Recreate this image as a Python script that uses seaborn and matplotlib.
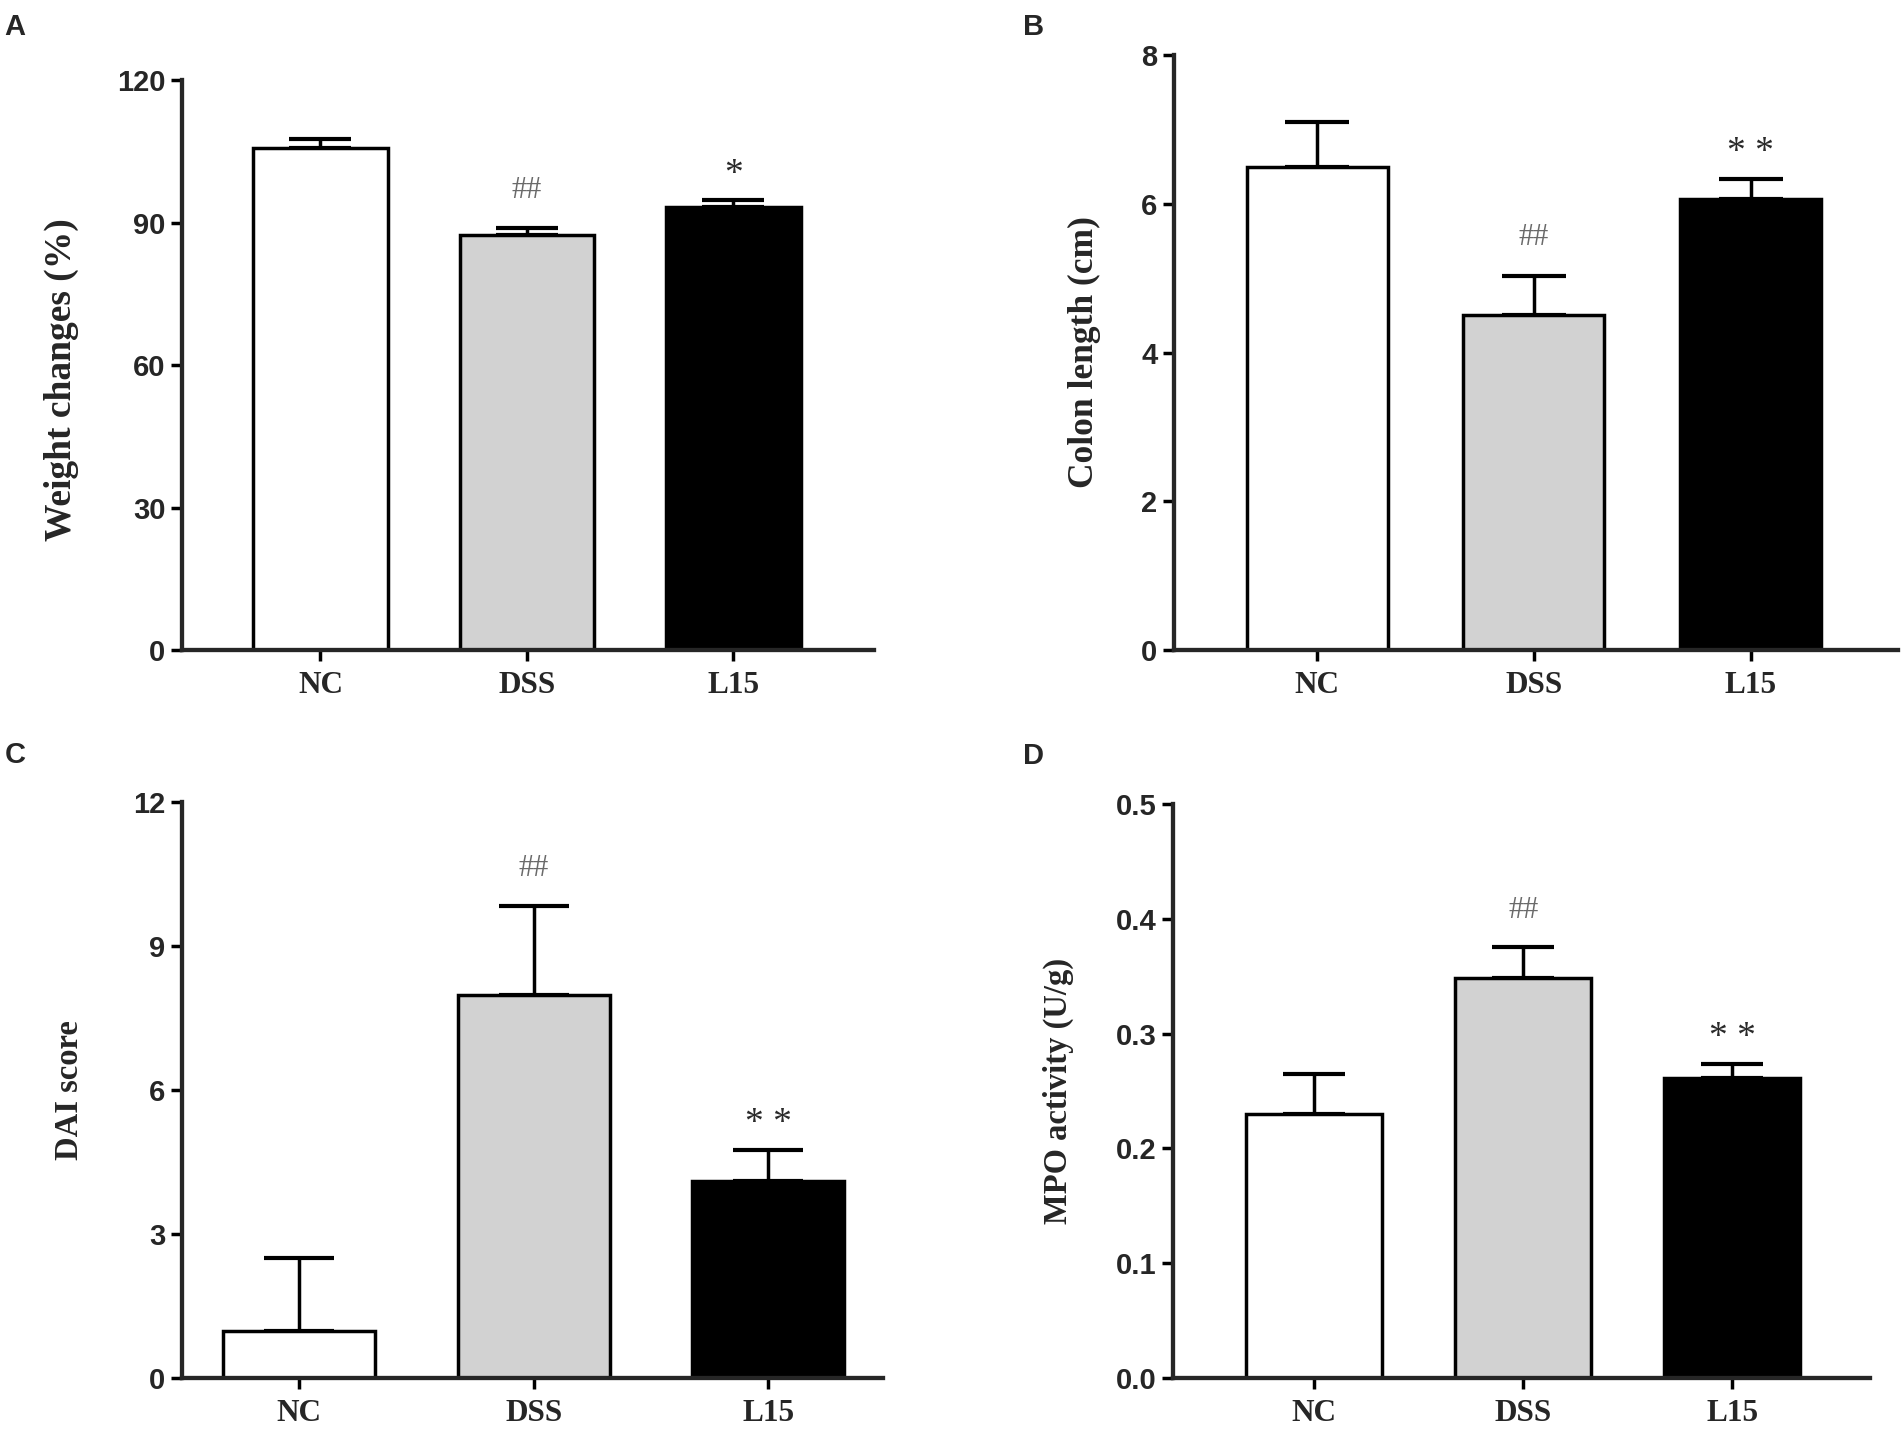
import numpy as np
import pandas as pd
import matplotlib
matplotlib.use('Agg')
import matplotlib.pyplot as plt
from matplotlib.ticker import FormatStrFormatter
import seaborn as sns

# Values (mean and upper SEM)
groups = ['NC', 'DSS', 'L15']
bar_colors = ['white', '#d2d2d2', 'black']

weight_mean = [105.6, 87.3, 93.3]
weight_sem = [1.9, 1.6, 1.45]
weight_ticks = [0, 30, 60, 90, 120]
weight_marks = ['', '##', '*']

colon_mean = [6.49, 4.50, 6.07]
colon_sem = [0.61, 0.53, 0.26]
colon_ticks = [0, 2, 4, 6, 8]
colon_marks = ['', '##', '* *']

dai_mean = [0.98, 7.97, 4.10]
dai_sem = [1.52, 1.86, 0.65]
dai_ticks = [0, 3, 6, 9, 12]
dai_marks = ['', '##', '* *']

mpo_mean = [0.230, 0.348, 0.261]
mpo_sem = [0.035, 0.027, 0.0125]
mpo_ticks = [0.0, 0.1, 0.2, 0.3, 0.4, 0.5]
mpo_marks = ['', '##', '* *']

sns.set_style('ticks')
plt.rcParams['font.family'] = ['Liberation Sans', 'DejaVu Sans']

DPI = 100
fig = plt.figure(figsize=(19.04, 14.29), dpi=DPI)

# letter, axes rect, means, sems, marks, ticks, ylabel, ylabel size,
# ylabel position (axes coords), xlim, tick format, letter position
panels = [
    ('A', [0.0956, 0.5451, 0.3634, 0.3989], weight_mean, weight_sem, weight_marks,
     weight_ticks, 'Weight changes (%)', 27, (-0.175, 0.475), (-0.67, 2.68), '%d',
     (0.0079, 0.981)),
    ('B', [0.6166, 0.5451, 0.3803, 0.4164], colon_mean, colon_sem, colon_marks,
     colon_ticks, 'Colon length (cm)', 25.5, (-0.123, 0.5), (-0.66, 2.68), '%d',
     (0.543, 0.981)),
    ('C', [0.0956, 0.0357, 0.3682, 0.4031], dai_mean, dai_sem, dai_marks,
     dai_ticks, 'DAI score', 23.5, (-0.160, 0.5), (-0.50, 2.49), '%d',
     (0.0079, 0.472)),
    ('D', [0.6161, 0.0357, 0.3661, 0.4017], mpo_mean, mpo_sem, mpo_marks,
     mpo_ticks, 'MPO activity (U/g)', 23.5, (-0.165, 0.5), (-0.675, 2.66), '%.1f',
     (0.543, 0.471)),
]

lw = 2.5
bar_w = 0.65

for (letter, rect, means, sems, marks, ticks, ylabel, ysize, ypos, xlim, fmt,
     lpos) in panels:
    ax = fig.add_axes(rect)
    df = pd.DataFrame({'group': groups, 'value': means})
    sns.barplot(data=df, x='group', y='value', hue='group', palette=bar_colors,
                order=groups, hue_order=groups, width=bar_w, edgecolor='black',
                linewidth=lw, errorbar=None, legend=False, ax=ax, zorder=2)

    # cap half-length about a quarter of the bar width
    ax_w_px = rect[2] * fig.get_figwidth() * DPI
    bar_px = bar_w * ax_w_px / (xlim[1] - xlim[0])
    cap = 0.23 * bar_px * 72 / DPI
    xs = np.arange(len(groups))
    ax.errorbar(xs, means, yerr=[np.zeros(len(means)), sems], fmt='none',
                ecolor='black', elinewidth=lw, capsize=cap, capthick=lw + 0.5,
                zorder=1)

    ymax = ticks[-1]
    for x, m, s, t in zip(xs, means, sems, marks):
        if not t:
            continue
        if t.startswith('#'):
            ax.text(x, m + s + 0.065 * ymax, t, ha='center', va='center',
                    fontsize=22, color='#6a6a6a', family='Liberation Serif')
        else:
            ax.text(x, m + s + 0.045 * ymax, t, ha='center', va='center',
                    fontsize=27, color='#2a2a2a', family='Liberation Serif')

    ax.set_xlim(*xlim)
    ax.set_ylim(0, ymax)
    ax.set_yticks(ticks)
    ax.yaxis.set_major_formatter(FormatStrFormatter(fmt))
    ax.set_xlabel('')
    ax.set_ylabel(ylabel, fontsize=ysize, fontweight='bold',
                  family='Liberation Serif', va='center')
    ax.yaxis.set_label_coords(*ypos)

    sns.despine(ax=ax)
    for side in ['left', 'bottom']:
        ax.spines[side].set_linewidth(lw + 0.6)
    ax.tick_params(axis='both', length=8, width=lw, direction='out', color='black')
    ax.tick_params(axis='y', pad=4)
    ax.tick_params(axis='x', pad=7)
    for lab in ax.get_yticklabels():
        lab.set_fontsize(21)
        lab.set_fontweight('bold')
        lab.set_family('Liberation Sans')
    for lab in ax.get_xticklabels():
        lab.set_fontsize(22.5)
        lab.set_fontweight('bold')
        lab.set_family('Liberation Serif')

    fig.text(lpos[0], lpos[1], letter, ha='center', va='center', fontsize=21,
             fontweight='bold', family='Liberation Sans')

fig.savefig('out.png', dpi=DPI, facecolor='white')
